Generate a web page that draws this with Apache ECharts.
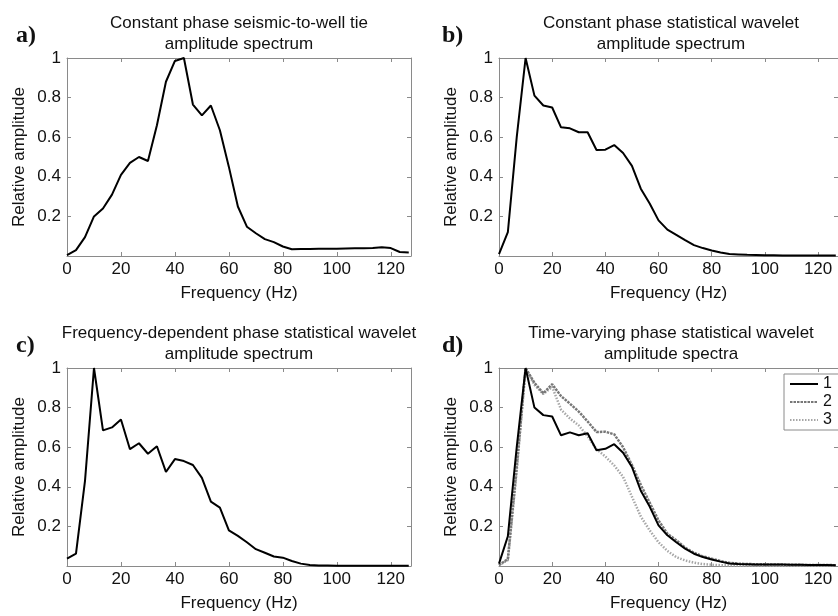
<!DOCTYPE html>
<html>
<head>
<meta charset="utf-8">
<script src="https://cdn.jsdelivr.net/npm/echarts@6/dist/echarts.min.js"></script>
<style>html,body{margin:0;padding:0;background:#fff;}#main{width:838px;height:616px;}</style>
</head>
<body>
<div id="main"></div>
<script>
var freq = [0,3.33,6.67,10,13.33,16.67,20,23.33,26.67,30,33.33,36.67,40,43.33,46.67,50,53.33,56.67,60,63.33,66.67,70,73.33,76.67,80,83.33,86.67,90,93.33,96.67,100,103.33,106.67,110,113.33,116.67,120,123.33,126.67];
var ampA = [0.005,0.03,0.095,0.20,0.24,0.31,0.41,0.47,0.50,0.48,0.66,0.88,0.985,1.0,0.765,0.71,0.76,0.635,0.45,0.25,0.148,0.115,0.085,0.07,0.048,0.034,0.035,0.035,0.036,0.036,0.037,0.038,0.039,0.039,0.040,0.044,0.040,0.02,0.018];
var ampB = [0.01,0.12,0.6,1.0,0.81,0.76,0.75,0.65,0.645,0.625,0.625,0.535,0.537,0.56,0.52,0.455,0.34,0.265,0.18,0.133,0.107,0.08,0.055,0.04,0.028,0.018,0.01,0.008,0.006,0.005,0.004,0.004,0.003,0.003,0.002,0.002,0.003,0.002,0.002];
var ampC = [0.037,0.062,0.43,1.0,0.685,0.70,0.74,0.59,0.62,0.567,0.605,0.475,0.54,0.53,0.51,0.445,0.325,0.295,0.18,0.152,0.12,0.085,0.067,0.048,0.042,0.025,0.012,0.005,0.003,0.002,0.001,0.001,0.001,0.001,0.001,0.001,0.001,0.001,0.001];
var ampD1 = [0.012,0.15,0.6,1.0,0.80,0.762,0.755,0.66,0.675,0.66,0.67,0.585,0.592,0.615,0.572,0.50,0.38,0.30,0.205,0.155,0.12,0.088,0.062,0.045,0.033,0.022,0.013,0.01,0.009,0.008,0.008,0.007,0.007,0.006,0.006,0.005,0.005,0.005,0.004];
var ampD2 = [0.005,0.035,0.5,1.0,0.925,0.872,0.918,0.858,0.82,0.78,0.73,0.677,0.678,0.665,0.60,0.51,0.41,0.32,0.23,0.163,0.13,0.093,0.067,0.049,0.037,0.025,0.016,0.012,0.01,0.009,0.008,0.007,0.007,0.006,0.006,0.005,0.005,0.005,0.004];
var ampD3 = [0.005,0.03,0.48,1.0,0.915,0.868,0.905,0.79,0.745,0.71,0.655,0.59,0.553,0.508,0.45,0.35,0.25,0.18,0.12,0.076,0.045,0.028,0.017,0.01,0.006,0.004,0.003,0.002,0.002,0.002,0.001,0.001,0.001,0.001,0.001,0.001,0.001,0.001,0.001];

var panelTitles = ['Constant phase seismic-to-well tie\namplitude spectrum','Constant phase statistical wavelet\namplitude spectrum','Frequency-dependent phase statistical wavelet\namplitude spectrum','Time-varying phase statistical wavelet\namplitude spectra'];
var panelLetters = ['a)','b)','c)','d)'];
var xName = 'Frequency (Hz)';
var yName = 'Relative amplitude';
var legendNames = ['1','2','3'];

function pairs(xs, ys){ return xs.map(function(x,i){ return [x, ys[i]]; }); }

var FONT = 'Liberation Sans, Arial, sans-serif';
var GRAY = '#8a8a8a';
var grids = [
  {left:67, top:58, width:344, height:198},
  {left:499, top:58, width:349, height:198},
  {left:67, top:368, width:344, height:198},
  {left:499, top:368, width:349, height:198}
];
var xAxes = [], yAxes = [], titles = [], graphics = [];
grids.forEach(function(g, i){
  xAxes.push({type:'value', gridIndex:i, position:'bottom', min:0, max:127.5, interval:20,
    name:xName, nameLocation:'middle', nameGap:29, nameTextStyle:{fontSize:17, color:'#111', fontFamily:FONT},
    axisLine:{show:true, onZero:false, lineStyle:{color:GRAY, width:1}},
    axisTick:{show:true, inside:true, length:4, lineStyle:{color:GRAY}},
    axisLabel:{fontSize:17, color:'#111', fontFamily:FONT, margin:5, showMaxLabel:false},
    splitLine:{show:false}});
  xAxes.push({type:'value', gridIndex:i, position:'top', min:0, max:127.5, interval:20,
    axisLine:{show:true, onZero:false, lineStyle:{color:GRAY, width:1}},
    axisTick:{show:true, inside:true, length:4, lineStyle:{color:GRAY}},
    axisLabel:{show:false}, splitLine:{show:false}});
  yAxes.push({type:'value', gridIndex:i, position:'left', min:0, max:1, interval:0.2,
    name:yName, nameLocation:'middle', nameGap:39, nameTextStyle:{fontSize:17, color:'#111', fontFamily:FONT},
    axisLine:{show:true, onZero:false, lineStyle:{color:GRAY, width:1}},
    axisTick:{show:true, inside:true, length:4, lineStyle:{color:GRAY}},
    axisLabel:{fontSize:17, color:'#111', fontFamily:FONT, margin:6,
      formatter:function(v){ return v === 0 ? '' : String(Math.round(v*10)/10); }},
    splitLine:{show:false}});
  yAxes.push({type:'value', gridIndex:i, position:'right', min:0, max:1, interval:0.2,
    axisLine:{show:true, onZero:false, lineStyle:{color:GRAY, width:1}},
    axisTick:{show:true, inside:true, length:4, lineStyle:{color:GRAY}},
    axisLabel:{show:false}, splitLine:{show:false}});
  titles.push({text:panelTitles[i], left:g.left + g.width/2 - (i%2===1 ? 2.5 : 0), top:g.top - 45, textAlign:'center', padding:0,
    textStyle:{fontSize:17, fontWeight:'normal', color:'#111', fontFamily:FONT, lineHeight:21}});
  graphics.push({type:'text', left: (i%2===0 ? 16 : 442), top: g.top - 34,
    style:{text:panelLetters[i], font:'bold 24px "Liberation Serif", "Times New Roman", serif', fill:'#111'}});
});

var baseLine = {type:'line', symbol:'none', smooth:false, clip:true, animation:false};
var series = [
  Object.assign({}, baseLine, {name:'a', xAxisIndex:0, yAxisIndex:0, data:pairs(freq, ampA), lineStyle:{color:'#000', width:2}}),
  Object.assign({}, baseLine, {name:'b', xAxisIndex:2, yAxisIndex:2, data:pairs(freq, ampB), lineStyle:{color:'#000', width:2}}),
  Object.assign({}, baseLine, {name:'c', xAxisIndex:4, yAxisIndex:4, data:pairs(freq, ampC), lineStyle:{color:'#000', width:2}}),
  Object.assign({}, baseLine, {name:legendNames[2], xAxisIndex:6, yAxisIndex:6, data:pairs(freq, ampD3), itemStyle:{color:'#a6a6a6'}, lineStyle:{color:'#a6a6a6', width:2.5, type:[1.5,1.5]}}),
  Object.assign({}, baseLine, {name:legendNames[1], xAxisIndex:6, yAxisIndex:6, data:pairs(freq, ampD2), itemStyle:{color:'#777'}, lineStyle:{color:'#777', width:2.5, type:[2.5,1]}}),
  Object.assign({}, baseLine, {name:legendNames[0], xAxisIndex:6, yAxisIndex:6, data:pairs(freq, ampD1), itemStyle:{color:'#000'}, lineStyle:{color:'#000', width:2}})
];

var chart = echarts.init(document.getElementById('main'), null, {renderer:'canvas'});
chart.setOption({
  backgroundColor:'#fff',
  animation:false,
  title:titles,
  grid:grids,
  xAxis:xAxes,
  yAxis:yAxes,
  graphic:graphics,
  legend:{data:legendNames, orient:'vertical', left:784, top:374, itemWidth:28, itemHeight:12, itemGap:2,
    padding:[2,8,2,5], borderColor:GRAY, borderWidth:1, backgroundColor:'#fff', selectedMode:false,
    itemStyle:{color:'rgba(0,0,0,0)', borderColor:'rgba(0,0,0,0)', borderWidth:0, opacity:0},
    textStyle:{fontSize:16, color:'#111', fontFamily:FONT}},
  series:series
});
</script>
</body>
</html>
